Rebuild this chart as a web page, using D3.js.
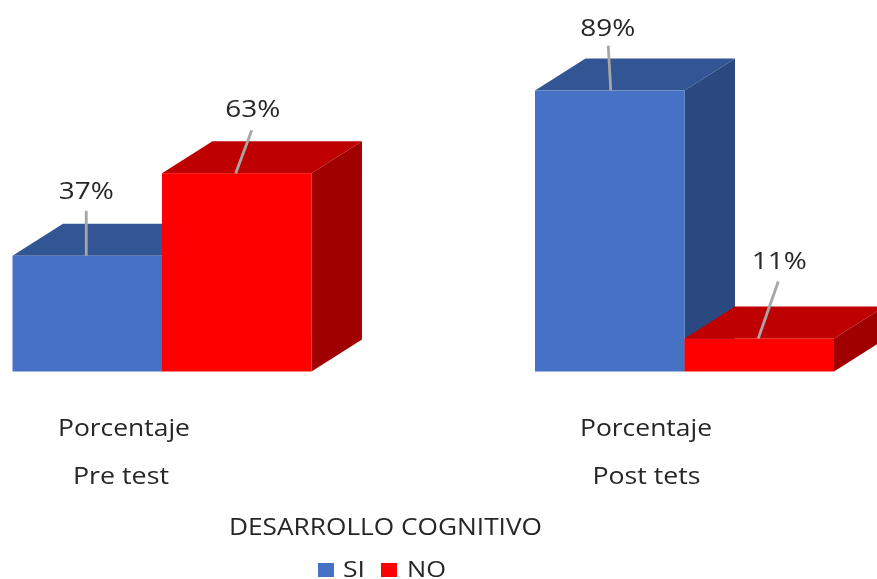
<!DOCTYPE html>
<html><head><meta charset="utf-8">
<script src="https://cdn.jsdelivr.net/npm/d3@7/dist/d3.min.js"></script>
<style>html,body{margin:0;padding:0;background:#fff}svg{display:block}text{fill:#262626}</style>
</head><body><svg id="c" width="877" height="579"></svg>
<script>
const categories = ["Pre test", "Post tets"];
const outerLabel = "Porcentaje";
const seriesNames = ["SI", "NO"];
const siValues = [36.84, 89.47];
const noValues = [63.16, 10.53];
const chartTitle = "DESARROLLO COGNITIVO";

const W = 877, H = 579;
const baseY = 371.5, depthX = 50.5, depthY = 32;
const face = "'Open Sans',sans-serif";
const colors = {SI:{front:"#4472C4",top:"#335593",side:"#2A4A80"},NO:{front:"#FF0000",top:"#BF0000",side:"#A00000"}};
// leader start dx/dy from bar top-centre, end dx, label dx/dy
const leaders = {"SI-0":[-1,-45,-1,-1,56.5],"NO-0":[15,-43,-1,16,56],"SI-1":[-1.5,-45,1,-2,55],"NO-1":[19,-57,-1,20,69.5]};

const svg = d3.select("#c");
const f = svg.append("defs").append("filter").attr("id","soft").attr("x","-5%").attr("y","-5%").attr("width","110%").attr("height","110%");
f.append("feGaussianBlur").attr("stdDeviation",0.65);
const root = svg.append("g").attr("filter","url(#soft)");

const x0 = d3.scaleBand().domain(categories).range([12.5,834]).paddingInner(0.4278).paddingOuter(0);
const x1 = d3.scaleBand().domain(seriesNames).range([0,x0.bandwidth()]);
const y = d3.scaleLinear().domain([0,100]).range([baseY,baseY-314]);
const pct = v => d3.format(".0f")(v)+"%";

const rows = [];
seriesNames.forEach((s,si)=>{
  const vals = si===0?siValues:noValues;
  categories.forEach((c,ci)=>rows.push({s,c,ci,v:vals[ci]}));
});
const poly = pts => pts.map(p=>p.join(",")).join(" ");
function label(x,yy,txt,size,len,anchor){
  return root.append("text").attr("x",x).attr("y",yy).attr("text-anchor",anchor||"middle")
    .attr("font-family",face).attr("font-size",size)
    .attr("textLength",len).attr("lengthAdjust","spacingAndGlyphs").text(txt);
}
rows.forEach(d=>{
  const a = x0(d.c)+x1(d.s), b = a+x1.bandwidth(), t = y(d.v), g = root.append("g");
  const col = colors[d.s];
  g.append("polygon").attr("fill",col.top)
    .attr("points",poly([[a,t],[a+depthX,t-depthY],[b+depthX,t-depthY],[b,t]]));
  g.append("polygon").attr("fill",col.side)
    .attr("points",poly([[b,t],[b+depthX,t-depthY],[b+depthX,baseY-depthY],[b,baseY]]));
  g.append("rect").attr("fill",col.front).attr("x",a).attr("y",t).attr("width",b-a).attr("height",baseY-t);
});
rows.forEach(d=>{
  const cx = x0(d.c)+x1(d.s)+x1.bandwidth()/2, t = y(d.v);
  const L = leaders[d.s+"-"+d.ci];
  root.append("line").attr("x1",cx+L[0]).attr("y1",t+L[1]).attr("x2",cx+L[2]).attr("y2",t)
    .attr("stroke","#A6A6A6").attr("stroke-width",2.8);
  label(cx+L[3],t-L[4],pct(d.v),24,55);
});
const axisDx = {"Pre test":-38,"Post tets":-38.5};
const catDx = {"Pre test":-41,"Post tets":-38};
const catLen = {"Pre test":96,"Post tets":108};
categories.forEach(c=>{
  const cx = x0(c)+x0.bandwidth()/2;
  label(cx+axisDx[c],436,outerLabel,24,132);
  label(cx+catDx[c],483.5,c,24,catLen[c]);
});
label(385.5,534.5,chartTitle,24,313);
const legendX = {SI:318,NO:381};
const legendLen = {SI:22,NO:39};
seriesNames.forEach(s=>{
  root.append("rect").attr("x",legendX[s]).attr("y",563).attr("width",16).attr("height",14).attr("fill",colors[s].front);
  label(legendX[s]+(s==="SI"?25:26),577,s,22,legendLen[s],"start");
});
</script></body></html>
